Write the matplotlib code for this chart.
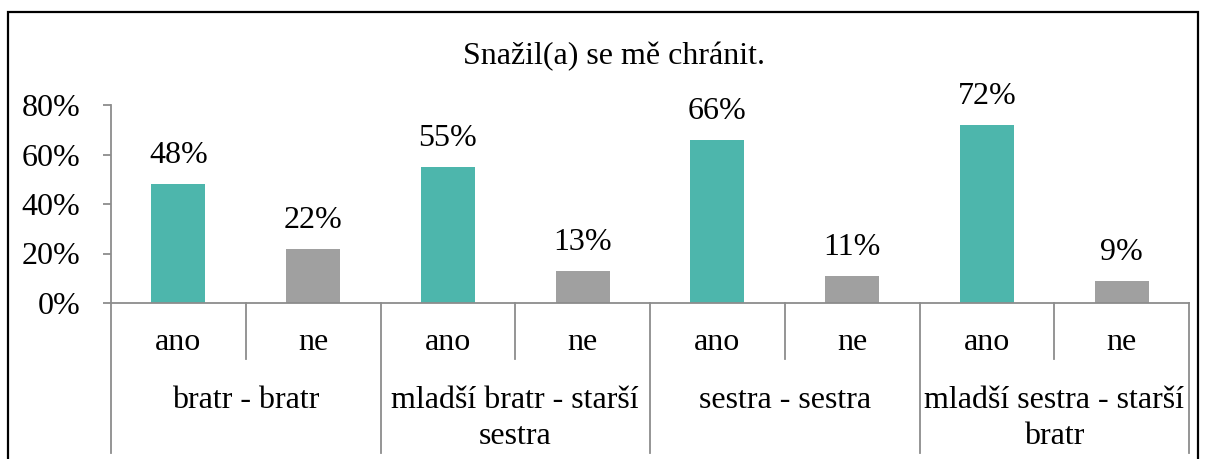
import matplotlib
matplotlib.use("Agg")
import matplotlib.pyplot as plt
from matplotlib.patches import Rectangle
import matplotlib.transforms as mtransforms

title = "Snažil(a) se mě chránit."
groups = ["bratr - bratr", "mladší bratr - starší\nsestra", "sestra - sestra", "mladší sestra - starší\nbratr"]
answers = ["ano", "ne"]
values = [0.48, 0.22, 0.55, 0.13, 0.66, 0.11, 0.72, 0.09]
yticks = [0, 0.2, 0.4, 0.6, 0.8]
ytick_labels = ["0%", "20%", "40%", "60%", "80%"]

teal = "#4DB6AC"
gray = "#A0A0A0"
axis_col = "#8C8C8C"

plt.rcParams["font.family"] = ["Liberation Serif", "DejaVu Serif"]
FS = 23

W, H = 1208, 459
fig = plt.figure(figsize=(W / 100, H / 100), dpi=100)
ax = fig.add_axes([111 / W, (H - 303) / H, (1189 - 111) / W, (303 - 105) / H])

n = len(values)
x = list(range(n))
colors = [teal if i % 2 == 0 else gray for i in range(n)]
ax.bar(x, values, width=0.4, color=colors)
for xi, v in zip(x, values):
    ax.annotate(f"{round(v*100)}%", (xi, v), xytext=(0, 10), textcoords="offset points",
                ha="center", va="bottom", fontsize=FS)

ax.set_xlim(-0.5, n - 0.5)
ax.set_ylim(0, 0.8)
ax.set_yticks(yticks)
ax.set_yticklabels(ytick_labels, fontsize=FS)
ax.tick_params(axis="y", length=6, width=1.3, color=axis_col, pad=16)
ax.set_xticks([])
for s in ["top", "right"]:
    ax.spines[s].set_visible(False)
for s in ["left", "bottom"]:
    ax.spines[s].set_color(axis_col)
    ax.spines[s].set_linewidth(1.3)

trans = mtransforms.blended_transform_factory(ax.transData, ax.transAxes)
inner_y = (303 - 359) / 198
outer_y = (303 - 453) / 198
for i in range(n + 1):
    xb = i - 0.5
    yb = outer_y if i % 2 == 0 else inner_y
    ax.plot([xb, xb], [0, yb], transform=trans, color=axis_col, lw=1.3, clip_on=False)

lab_y = (303 - 343) / 198
for i in range(n):
    ax.text(i, lab_y, answers[i % 2], transform=trans, ha="center", va="center", fontsize=FS)

grp_y = (303 - 386) / 198
for g, name in enumerate(groups):
    ax.text(2 * g + 0.5, grp_y, name, transform=trans, ha="center", va="top", fontsize=FS,
            linespacing=1.3)

fig.text(614 / W, (H - 57) / H, title, ha="center", va="center", fontsize=FS)

fig.patches.append(Rectangle((8 / W, -0.05), (1198 - 8) / W, (H - 12) / H + 0.05,
                             transform=fig.transFigure, fill=False, edgecolor="black", lw=1.6))

fig.savefig("out.png", dpi=100)
